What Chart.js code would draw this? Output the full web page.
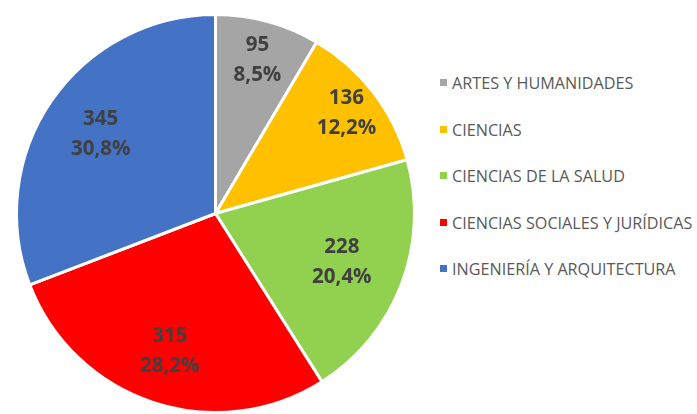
<!DOCTYPE html>
<html>
<head>
<meta charset="utf-8">
<script src="https://cdn.jsdelivr.net/npm/chart.js@4.4.1/dist/chart.umd.min.js"></script>
<style>
  body { margin: 0; background: #fff; width: 697px; height: 414px; overflow: hidden; position: relative; }
  #wrap { position: absolute; left: 0; top: 0; width: 430px; height: 414px; }
  #legend { position: absolute; left: 440px; top: 71px; font-family: "Open Sans", sans-serif; font-size: 16.2px; color: #595959; }
  #legend div { height: 46.5px; line-height: 24px; white-space: nowrap; }
  #legend span { display: inline-block; width: 7px; height: 7px; margin-right: 5px; vertical-align: 3px; }
</style>
</head>
<body>
<div id="wrap"><canvas id="pieChart"></canvas></div>
<div id="legend"></div>
<script>
// Data
const categories = [
    'ARTES Y HUMANIDADES',
    'CIENCIAS',
    'CIENCIAS DE LA SALUD',
    'CIENCIAS SOCIALES Y JURÍDICAS',
    'INGENIERÍA Y ARQUITECTURA'
];
const counts = [95, 136, 228, 315, 345];
const percentLabels = ['8,5%', '12,2%', '20,4%', '28,2%', '30,8%'];
const sliceColors = ['#A5A5A5', '#FFC000', '#92D050', '#FF0000', '#4472C4'];

// Label distance from centre, as fraction of radius (Excel "best fit" look)
const labelRadius = [0.8, 0.83, 0.68, 0.73, 0.7];

// Build the HTML legend
const legend = document.getElementById('legend');
categories.forEach((cat, i) => {
    const row = document.createElement('div');
    row.innerHTML = `<span style="background:${sliceColors[i]}"></span>${cat}`;
    legend.appendChild(row);
});

// Plugin to draw value + percent inside each slice
const sliceLabels = {
    id: 'sliceLabels',
    afterDatasetsDraw(chart) {
        const ctx = chart.ctx;
        const meta = chart.getDatasetMeta(0);
        ctx.save();
        ctx.fillStyle = '#404040';
        ctx.font = 'bold 20.5px "Open Sans", sans-serif';
        ctx.textAlign = 'center';
        ctx.textBaseline = 'middle';
        meta.data.forEach((arc, i) => {
            const p = arc.getProps(['x', 'y', 'startAngle', 'endAngle', 'outerRadius'], true);
            const mid = (p.startAngle + p.endAngle) / 2;
            const r = p.outerRadius * labelRadius[i];
            const x = p.x + Math.cos(mid) * r;
            const y = p.y + Math.sin(mid) * r;
            ctx.fillText(String(counts[i]), x, y - 15);
            ctx.fillText(percentLabels[i], x, y + 15);
        });
        ctx.restore();
    }
};

const ctx = document.getElementById('pieChart').getContext('2d');
new Chart(ctx, {
    type: 'pie',
    data: {
        labels: categories,
        datasets: [{
            data: counts,
            backgroundColor: sliceColors,
            borderColor: '#ffffff',
            borderWidth: 3
        }]
    },
    options: {
        responsive: true,
        maintainAspectRatio: false,
        animation: false,
        layout: { padding: { left: 15, right: 14, top: 13, bottom: 0 } },
        plugins: {
            legend: { display: false },
            tooltip: { enabled: false }
        }
    },
    plugins: [sliceLabels]
});
</script>
</body>
</html>
